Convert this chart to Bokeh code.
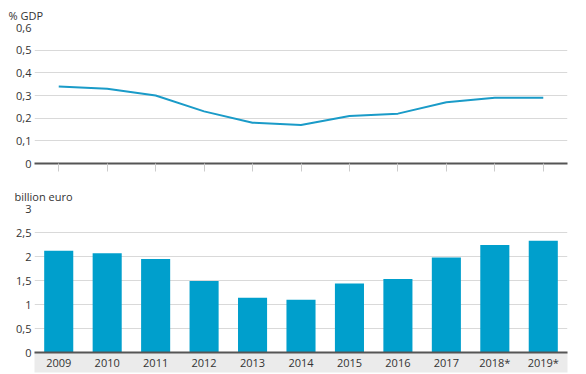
from bokeh.plotting import figure
from bokeh.models import FactorRange, Range1d, FixedTicker, ColumnDataSource
from bokeh.layouts import column
from bokeh.embed import file_html
from bokeh.resources import INLINE

years = ["2009", "2010", "2011", "2012", "2013", "2014", "2015", "2016", "2017", "2018*", "2019*"]
gdp_share = [0.34, 0.33, 0.30, 0.23, 0.18, 0.17, 0.21, 0.22, 0.27, 0.29, 0.29]
billion_eur = [2.12, 2.07, 1.95, 1.49, 1.14, 1.10, 1.44, 1.53, 1.98, 2.24, 2.33]

top_ticks = [0, 0.1, 0.2, 0.3, 0.4, 0.5, 0.6]
top_labels = ["0", "0,1", "0,2", "0,3", "0,4", "0,5", "0,6"]
bot_ticks = [0, 0.5, 1, 1.5, 2, 2.5, 3]
bot_labels = ["0", "0,5", "1", "1,5", "2", "2,5", "3"]

FONT = "Open Sans"
TXT = "#333333"
BLUE_LINE = "#1a9bc8"
BLUE_BAR = "#009fcc"
GRID = "#d9d9d9"
AXIS = "#555555"

W = 580
BL = 34
BR = W - BL - 533

def style(p, ticks, labels):
    p.outline_line_color = None
    p.xgrid.grid_line_color = None
    p.ygrid.grid_line_color = GRID
    p.ygrid.grid_line_width = 1
    p.yaxis.ticker = FixedTicker(ticks=ticks)
    p.yaxis.major_label_overrides = {t: l for t, l in zip(ticks, labels)}
    p.yaxis.axis_line_color = None
    p.yaxis.major_tick_line_color = None
    p.yaxis.minor_tick_line_color = None
    p.yaxis.major_tick_out = 0
    p.yaxis.major_label_standoff = 3
    p.yaxis.major_label_text_font = FONT
    p.yaxis.major_label_text_font_size = "11px"
    p.yaxis.major_label_text_color = TXT
    p.xaxis.axis_line_color = AXIS
    p.xaxis.axis_line_width = 2
    p.xaxis.axis_label_standoff = 0
    p.title.align = "left"
    p.title.text_font = FONT
    p.title.text_font_size = "11px"
    p.title.text_font_style = "normal"
    p.title.text_color = TXT

# top panel: line
p1 = figure(width=W, height=180, x_range=FactorRange(*years, range_padding=0),
            y_range=Range1d(0, 0.6), output_backend="svg", toolbar_location=None,
            min_border_left=BL, min_border_right=BR, min_border_top=27, min_border_bottom=17,
            title="% GDP")
style(p1, top_ticks, top_labels)
p1.title.offset = -26
p1.title.standoff = 5
p1.title.vertical_align = "top"
src1 = ColumnDataSource(dict(year=years, v=gdp_share))
p1.line(x="year", y="v", source=src1, line_color=BLUE_LINE, line_width=2)
p1.xaxis.major_tick_line_color = "#cccccc"
p1.xaxis.major_tick_out = 8
p1.xaxis.major_tick_in = 0
p1.xaxis.major_label_text_font_size = "1px"
p1.xaxis.major_label_text_alpha = 0
p1.xaxis.major_label_standoff = 0

# bottom panel: bars
p2 = figure(width=W, height=193, x_range=FactorRange(*years, range_padding=0),
            y_range=Range1d(0, 3), output_backend="svg", toolbar_location=None,
            min_border_left=BL, min_border_right=BR, min_border_top=28, min_border_bottom=21,
            title="billion euro")
style(p2, bot_ticks, bot_labels)
p2.title.offset = -20
p2.title.standoff = 9
src2 = ColumnDataSource(dict(year=years, v=billion_eur))
p2.vbar(x="year", top="v", width=0.6, source=src2, fill_color=BLUE_BAR, line_color=None)
p2.xaxis.major_tick_line_color = None
p2.xaxis.major_tick_out = 0
p2.xaxis.major_tick_in = 0
p2.xaxis.major_label_standoff = 2
p2.xaxis.major_label_text_font = FONT
p2.xaxis.major_label_text_font_size = "11px"
p2.xaxis.major_label_text_color = TXT
p2.xaxis.background_fill_color = "#ebebeb"

layout = column(p1, p2, spacing=0)
open("out.html", "w").write(file_html(layout, INLINE))
